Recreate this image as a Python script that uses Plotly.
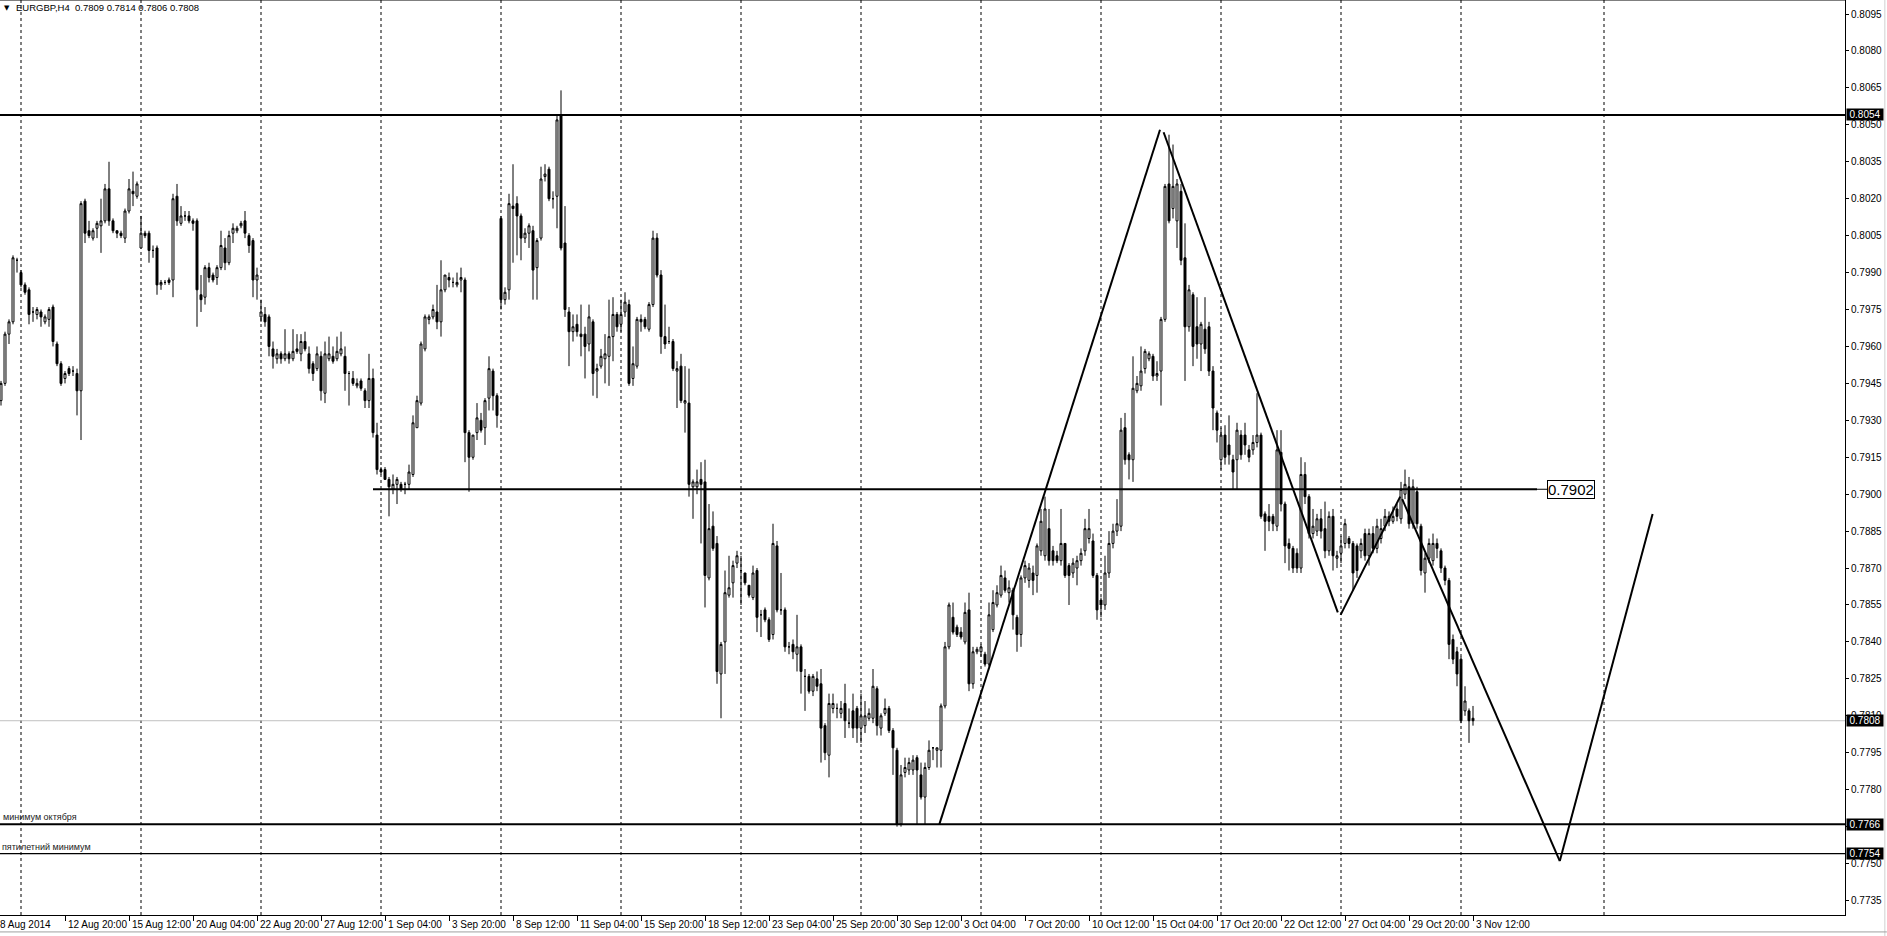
import plotly.graph_objects as go

# ---------------- data (prices in pips: 0.7938 -> 7938) ----------------
opens = [
 7930,7938,7945,7965,7970,7995,7990,7985,7983,7974,
 7973,7974,7970,7971,7976,7961,7953,7947,7951,7950,
 7949,7942,8019,8007,8004,8008,8009,8011,8024,8011,
 8007,8006,8004,8015,8023,8021,8000,8006,8006,7999,
 8000,7985,7986,7987,7987,8021,8010,8013,8013,8011,
 8011,7981,7980,7992,7989,7988,7992,8000,7994,8006,
 8007,8009,8011,8005,8003,7987,7972,7973,7972,7959,
 7955,7957,7955,7957,7955,7959,7957,7962,7957,7953,
 7951,7956,7941,7955,7956,7955,7957,7956,7949,7947,
 7944,7946,7942,7938,7947,7924,7910,7910,7906,7902,
 7904,7904,7904,7904,7908,7927,7937,7959,7971,7972,
 7974,7970,7983,7988,7986,7985,7987,7987,7925,7915,
 7925,7930,7927,7939,7950,7940,8012,7979,7983,8017,
 8018,8013,8004,8006,8007,7992,8004,8029,8032,8020,
 8021,8054,8002,7974,7966,7969,7965,7965,7961,7970,
 7950,7952,7955,7956,7964,7973,7969,7974,7977,7947,
 7952,7971,7971,7967,7977,8004,7989,7964,7962,7962,
 7950,7952,7937,7937,7903,7903,7906,7905,7866,7887,
 7880,7827,7840,7859,7864,7872,7869,7868,7863,7858,
 7869,7851,7853,7849,7843,7879,7853,7853,7838,7839,
 7835,7838,7826,7826,7820,7825,7823,7806,7794,7813,
 7813,7811,7815,7807,7812,7813,7805,7806,7809,7809,
 7821,7805,7811,7813,7804,7796,7766,7787,7788,7788,
 7793,7786,7777,7789,7797,7796,7796,7814,7838,7850,
 7846,7844,7840,7853,7823,7836,7836,7835,7831,7845,
 7855,7859,7866,7860,7861,7850,7843,7866,7865,7868,
 7867,7877,7875,7886,7877,7875,7873,7880,7871,7868,
 7870,7873,7877,7882,7881,7867,7857,7855,7868,7880,
 7885,7887,7927,7916,7914,7942,7944,7951,7955,7956,
 7948,7950,7971,8026,8016,8011,8023,7996,7968,7981,
 7968,7961,7967,7968,7950,7933,7914,7924,7920,7914,
 7914,7924,7924,7918,7918,7921,7924,7892,7891,7891,
 7887,7917,7896,7880,7878,7876,7870,7908,7899,7884,
 7885,7890,7886,7877,7891,7874,7876,7880,7882,7880,
 7879,7877,7884,7875,7884,7878,7882,7887,7891,7889,
 7894,7890,7900,7903,7888,7901,7887,7868,7874,7873,
 7880,7877,7870,7865,7841,7836,7833,7812,7812,7809,
]
highs = [
 7942,7946,7966,7971,7997,7996,7991,7986,7984,7976,
 7976,7975,7973,7976,7977,7962,7954,7950,7952,7952,
 7951,8019,8020,8011,8008,8011,8020,8026,8035,8012,
 8007,8007,8016,8028,8031,8027,8013,8007,8007,8001,
 8001,7987,7987,7988,8022,8026,8017,8015,8015,8012,
 8012,7989,7993,7994,7990,7993,8007,8004,8007,8010,
 8009,8011,8015,8006,8004,7992,7979,7976,7973,7962,
 7959,7958,7967,7958,7967,7965,7965,7966,7960,7954,
 7960,7958,7962,7964,7960,7964,7966,7960,7950,7950,
 7947,7947,7943,7957,7951,7929,7911,7911,7907,7908,
 7907,7905,7905,7912,7932,7940,7962,7973,7973,7977,
 7985,7995,7989,7990,7988,7990,7992,7988,7926,7924,
 7937,7933,7939,7956,7951,7941,8013,7984,8022,8034,
 8021,8014,8008,8010,8009,8004,8033,8034,8033,8023,
 8054,8064,8017,7976,7973,7973,7977,7968,7977,7971,
 7953,7959,7965,7979,7980,7974,7979,7982,7979,7960,
 7972,7973,7972,7978,8007,8006,7991,7977,7968,7963,
 7954,7957,7952,7951,7906,7910,7913,7914,7896,7893,
 7883,7840,7869,7875,7873,7877,7875,7868,7863,7871,
 7870,7853,7854,7850,7888,7881,7868,7854,7840,7841,
 7851,7839,7829,7827,7827,7828,7829,7807,7819,7819,
 7815,7816,7823,7813,7819,7814,7819,7816,7813,7829,
 7822,7811,7817,7814,7805,7797,7790,7793,7793,7794,
 7794,7791,7791,7800,7797,7797,7815,7840,7856,7856,
 7847,7846,7856,7860,7838,7838,7839,7836,7856,7861,
 7863,7871,7869,7865,7862,7851,7867,7873,7872,7871,
 7880,7894,7899,7894,7879,7877,7894,7880,7872,7874,
 7875,7878,7890,7894,7884,7868,7858,7875,7885,7888,
 7898,7931,7933,7917,7956,7948,7960,7959,7958,7957,
 7954,7972,8026,8046,8042,8028,8026,8010,7985,7982,
 7980,7970,7980,7970,7952,7934,7927,7928,7932,7916,
 7929,7926,7929,7920,7924,7941,7925,7893,7896,7892,
 7926,7926,7897,7882,7879,7878,7915,7913,7900,7894,
 7892,7894,7897,7893,7894,7877,7883,7890,7883,7881,
 7880,7882,7886,7886,7887,7890,7890,7894,7893,7895,
 7896,7905,7910,7907,7906,7903,7888,7876,7882,7884,
 7882,7878,7871,7866,7843,7838,7834,7822,7813,7814,
]
lows = [
 7925,7936,7944,7961,7969,7990,7984,7981,7969,7970,
 7971,7968,7969,7968,7960,7952,7944,7945,7948,7948,
 7932,7922,8002,8004,8003,8004,7998,8010,8009,8006,
 8004,8004,8002,8014,8017,8020,8000,8004,7994,7996,
 7981,7983,7985,7985,7980,8009,8009,8011,8010,8007,
 7968,7974,7977,7986,7986,7985,7991,7991,7993,8002,
 8006,8008,8004,7998,7980,7979,7970,7968,7956,7951,
 7953,7953,7954,7953,7954,7957,7954,7958,7949,7946,
 7950,7938,7937,7954,7953,7954,7956,7942,7936,7944,
 7943,7942,7935,7935,7923,7908,7908,7906,7891,7900,
 7896,7901,7900,7902,7907,7927,7936,7958,7969,7971,
 7967,7964,7982,7984,7984,7984,7982,7913,7901,7914,
 7922,7925,7920,7934,7934,7927,7975,7977,7979,7994,
 7997,7995,8002,8000,7979,7979,8003,8027,8019,8016,
 8008,7999,7972,7952,7962,7964,7956,7947,7958,7940,
 7939,7951,7945,7944,7954,7966,7966,7972,7944,7944,
 7951,7966,7967,7966,7976,7988,7957,7959,7961,7950,
 7935,7937,7925,7899,7890,7900,7880,7854,7865,7877,
 7823,7809,7827,7858,7858,7870,7855,7863,7858,7857,
 7844,7842,7848,7840,7841,7852,7851,7836,7835,7833,
 7828,7819,7812,7819,7818,7820,7791,7792,7785,7811,
 7809,7809,7801,7805,7801,7799,7799,7803,7808,7807,
 7802,7802,7810,7803,7786,7765,7765,7785,7786,7786,
 7766,7776,7766,7788,7792,7789,7789,7813,7837,7843,
 7842,7841,7839,7820,7821,7835,7834,7830,7830,7844,
 7854,7858,7860,7856,7845,7836,7838,7864,7862,7859,
 7860,7875,7873,7871,7871,7872,7871,7866,7855,7866,
 7863,7871,7875,7880,7866,7849,7850,7853,7866,7878,
 7883,7885,7912,7906,7905,7941,7942,7949,7954,7946,
 7946,7936,7970,8010,8012,8000,7993,7946,7966,7952,
 7955,7950,7957,7948,7926,7921,7910,7912,7912,7902,
 7902,7914,7916,7913,7916,7919,7890,7877,7885,7885,
 7885,7893,7872,7869,7868,7868,7868,7896,7882,7882,
 7883,7882,7874,7875,7869,7870,7872,7878,7878,7861,
 7866,7874,7873,7871,7876,7876,7880,7885,7887,7888,
 7889,7888,7898,7886,7886,7886,7867,7860,7872,7871,
 7874,7868,7863,7833,7831,7822,7807,7810,7799,7806,
]
closes = [
 7938,7945,7965,7970,7996,7995,7985,7982,7973,7974,
 7975,7972,7972,7975,7962,7953,7945,7949,7949,7950,
 7942,8018,8006,8005,8007,8010,8011,8024,8011,8007,
 8006,8005,8015,8024,8022,8026,8006,8005,7999,7999,
 7985,7986,7986,7986,8020,8011,8013,8013,8011,8010,
 7983,7979,7992,7988,7987,7992,8001,7994,8005,8008,
 8008,8010,8006,8001,7987,7989,7974,7970,7960,7956,
 7957,7955,7957,7955,7958,7958,7962,7959,7951,7949,
 7957,7942,7957,7957,7954,7958,7959,7949,7949,7945,
 7945,7943,7938,7947,7925,7910,7909,7906,7903,7904,
 7906,7902,7904,7909,7929,7938,7961,7972,7972,7975,
 7970,7983,7989,7987,7986,7986,7988,7925,7915,7924,
 7931,7926,7938,7951,7940,7932,7979,7982,8018,8016,
 8013,8004,8006,8009,7991,8003,8028,8030,8020,8020,
 8052,8000,7975,7966,7968,7966,7964,7960,7972,7949,
 7951,7956,7957,7964,7973,7968,7973,7978,7945,7953,
 7971,7970,7968,7977,8004,7989,7964,7961,7962,7951,
 7951,7938,7938,7904,7905,7905,7904,7867,7886,7878,
 7828,7839,7860,7862,7871,7875,7869,7864,7859,7868,
 7850,7851,7849,7841,7880,7853,7853,7838,7838,7836,
 7838,7828,7826,7820,7826,7822,7805,7795,7815,7815,
 7813,7813,7808,7807,7805,7805,7810,7810,7811,7822,
 7806,7810,7813,7804,7797,7766,7786,7789,7791,7792,
 7788,7777,7789,7796,7797,7797,7814,7838,7855,7844,
 7843,7842,7852,7823,7836,7837,7838,7831,7851,7856,
 7860,7867,7861,7862,7851,7843,7866,7871,7870,7865,
 7879,7889,7894,7873,7873,7873,7880,7867,7867,7872,
 7873,7876,7886,7886,7867,7853,7855,7868,7880,7885,
 7888,7926,7914,7914,7943,7945,7950,7958,7957,7948,
 7949,7971,8025,8011,8025,8026,7995,7968,7983,7960,
 7961,7969,7959,7950,7935,7926,7924,7915,7916,7909,
 7926,7916,7920,7915,7921,7924,7891,7889,7889,7888,
 7918,7896,7879,7878,7870,7870,7908,7899,7884,7887,
 7890,7885,7877,7891,7875,7875,7879,7888,7880,7868,
 7869,7880,7875,7884,7878,7887,7886,7891,7889,7891,
 7891,7902,7904,7888,7903,7888,7869,7874,7880,7880,
 7878,7870,7865,7839,7833,7827,7808,7816,7808,7808,
]

# time axis labels (bar index -> text)
label_bars = [0, 17, 33, 49, 65, 81, 97, 113, 129, 145, 161, 177, 193, 209, 225,
              241, 257, 273, 289, 305, 321, 337, 353, 369]
label_texts = ["8 Aug 2014", "12 Aug 20:00", "15 Aug 12:00", "20 Aug 04:00",
               "22 Aug 20:00", "27 Aug 12:00", "1 Sep 04:00", "3 Sep 20:00",
               "8 Sep 12:00", "11 Sep 04:00", "15 Sep 20:00", "18 Sep 12:00",
               "23 Sep 04:00", "25 Sep 20:00", "30 Sep 12:00", "3 Oct 04:00",
               "7 Oct 20:00", "10 Oct 12:00", "15 Oct 04:00", "17 Oct 20:00",
               "22 Oct 12:00", "27 Oct 04:00", "29 Oct 20:00", "3 Nov 12:00"]
# weekly separators (bar index of Monday 00:00)
week_bars = [6, 36, 66, 96, 126, 156, 186, 216, 246, 276, 306, 336, 366, 401.75]

# horizontal levels
level_top = 0.8054
level_mid = 0.7902
level_oct_min = 0.7766
level_5y_min = 0.7754
bid = 0.7808

# zig-zag trend lines: (bar0, price0, bar1, price1)
trend_lines = [
    (235.6, 0.7766, 290.75, 0.8048),
    (291.65, 0.8047, 335.2, 0.7852),
    (335.9, 0.7851, 350.8, 0.7899),
    (351.3, 0.7898, 390.7, 0.7751),
    (390.7, 0.7751, 413.9, 0.7892),
]

header_text = "EURGBP,H4\u00a0\u00a00.7809 0.7814 0.7806 0.7808"
FONT = "Liberation Sans, Arial, sans-serif"

bars = list(range(len(closes)))
fig = go.Figure()
fig.add_trace(go.Candlestick(
    x=bars,
    open=[v / 10000 for v in opens],
    high=[v / 10000 for v in highs],
    low=[v / 10000 for v in lows],
    close=[v / 10000 for v in closes],
    increasing=dict(fillcolor="white", line=dict(color="black", width=1)),
    decreasing=dict(fillcolor="black", line=dict(color="black", width=1)),
    whiskerwidth=0,
    showlegend=False,
    hoverinfo="skip",
))

shapes = []
# weekly dashed grid
for wb in week_bars:
    shapes.append(dict(type="line", xref="x", yref="paper", x0=wb, x1=wb, y0=0, y1=1,
                       line=dict(color="black", width=1, dash="3px,3px"), layer="below"))
# bid line
shapes.append(dict(type="line", xref="paper", yref="y", x0=0, x1=1, y0=bid, y1=bid,
                   line=dict(color="#c0c0c0", width=1), layer="below"))
# horizontal levels
for lv, w in [(level_top, 2), (level_oct_min, 2), (level_5y_min, 1.3)]:
    shapes.append(dict(type="line", xref="paper", yref="y", x0=0, x1=1, y0=lv, y1=lv,
                       line=dict(color="black", width=w)))
shapes.append(dict(type="line", xref="x", yref="y", x0=94, x1=385, y0=level_mid, y1=level_mid,
                   line=dict(color="black", width=2)))
shapes.append(dict(type="line", xref="x", yref="y", x0=385, x1=387.5, y0=level_mid, y1=level_mid,
                   line=dict(color="black", width=1)))
# trend lines
for b0, p0, b1, p1 in trend_lines:
    shapes.append(dict(type="line", xref="x", yref="y", x0=b0, x1=b1, y0=p0, y1=p1,
                       line=dict(color="black", width=2)))
# frame
shapes.append(dict(type="line", xref="paper", yref="paper", x0=0, x1=1, y0=1, y1=1,
                   line=dict(color="black", width=1)))
shapes.append(dict(type="line", xref="paper", yref="paper", x0=1.0216, x1=1.0216, y0=-0.023, y1=1,
                   line=dict(color="#d0d0d0", width=1)))
shapes.append(dict(type="line", xref="paper", yref="paper", x0=0, x1=1.0227, y0=-0.0185, y1=-0.0185,
                   line=dict(color="#a0a0a0", width=1)))

annotations = []
for b, t in zip(label_bars, label_texts):
    if b == 0:
        annotations.append(dict(x=0, y=0, xref="paper", yref="paper", text=t, showarrow=False,
                                xanchor="left", yanchor="top", xshift=-2, yshift=-2,
                                font=dict(family=FONT, size=10, color="black")))
        continue
    annotations.append(dict(x=b, y=0, xref="x", yref="paper", text=t, showarrow=False,
                            xanchor="left", yanchor="top", xshift=1, yshift=-2,
                            font=dict(family=FONT, size=10, color="black")))
for lv in [level_top, bid, level_oct_min, level_5y_min]:
    annotations.append(dict(x=1, y=lv, xref="paper", yref="y", text=f"{lv:.4f}", showarrow=False,
                            xanchor="left", yanchor="middle", xshift=1, bgcolor="black",
                            borderpad=0, width=36,
                            font=dict(family=FONT, size=10, color="white")))
annotations.append(dict(x=387.5, y=level_mid, xref="x", yref="y", text=f"{level_mid:.4f}",
                        showarrow=False, xanchor="left", yanchor="middle", bgcolor="white",
                        bordercolor="black", borderwidth=1, borderpad=0,
                        font=dict(family=FONT, size=15, color="black")))
annotations.append(dict(x=0, y=level_oct_min, xref="paper", yref="y", text="минимум октября",
                        showarrow=False, xanchor="left", yanchor="bottom", xshift=1, yshift=0,
                        font=dict(family=FONT, size=9, color="#222")))
annotations.append(dict(x=0, y=level_5y_min, xref="paper", yref="y", text="пятилетний минимум",
                        showarrow=False, xanchor="left", yanchor="bottom", xshift=0, yshift=0,
                        font=dict(family=FONT, size=9, color="#222")))
annotations.append(dict(x=0, y=1, xref="paper", yref="paper", text="▼", showarrow=False,
                        xanchor="left", yanchor="top", xshift=2, yshift=-2,
                        font=dict(family="DejaVu Sans", size=7, color="black")))
annotations.append(dict(x=0, y=1, xref="paper", yref="paper", text=header_text, showarrow=False,
                        xanchor="left", yanchor="top", xshift=14, yshift=0,
                        font=dict(family=FONT, size=9.5, color="black")))

fig.update_layout(
    width=1887, height=936,
    margin=dict(l=0, r=42, t=0, b=21, pad=0),
    paper_bgcolor="white", plot_bgcolor="white",
    shapes=shapes, annotations=annotations,
    showlegend=False,
    xaxis=dict(range=[0.75, 462], rangeslider=dict(visible=False), showgrid=False,
               zeroline=False, showline=True, linecolor="black", linewidth=1,
               tickmode="array", tickvals=label_bars, ticktext=[""] * len(label_bars),
               ticks="outside", ticklen=5, tickcolor="black", showticklabels=False,
               fixedrange=True),
    yaxis=dict(side="right", range=[0.77291, 0.81007], showgrid=False, zeroline=False,
               showline=True, linecolor="black", linewidth=1,
               tick0=0.7735, dtick=0.0015, tickformat=".4f", ticks="outside", ticklen=3,
               tickcolor="black", tickfont=dict(family=FONT, size=10, color="black"),
               automargin=False, fixedrange=True),
)

fig.write_html(
    "out.html",
    config={"displayModeBar": False},
    post_script="document.body.style.margin='0';document.body.style.overflow='hidden';",
)
